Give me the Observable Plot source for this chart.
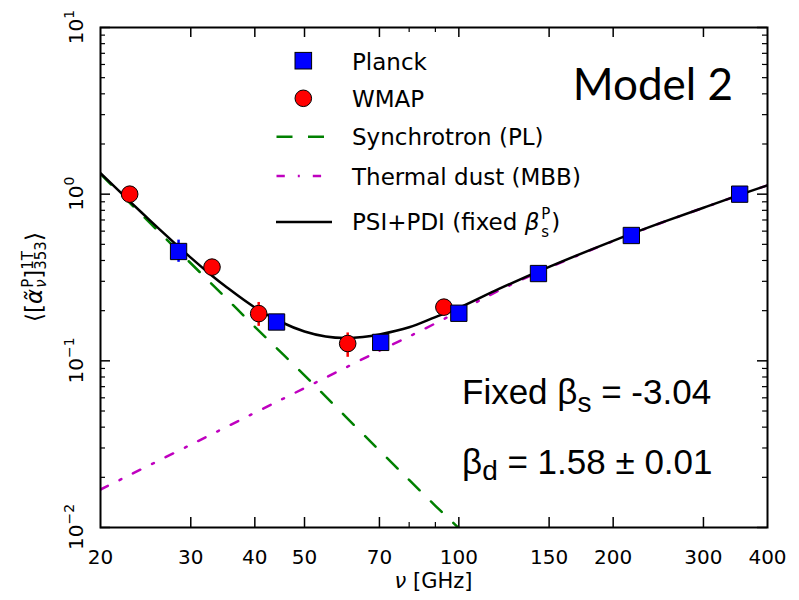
<!DOCTYPE html>
<html><head><meta charset="utf-8">
<script src="https://cdn.jsdelivr.net/npm/d3@7"></script>
<script src="https://cdn.jsdelivr.net/npm/@observablehq/plot@0.6"></script>
<style>body{margin:0;background:#fff}</style>
</head><body><div id="chart"></div>
<script>
// ---- data ----
const planckFreq = [28.4, 44.1, 70.4, 100, 143, 217, 353];
const planckVal  = [0.453, 0.171, 0.129, 0.193, 0.334, 0.565, 1.0];
const planckLo   = [0.39, 0.163, 0.126, 0.19, 0.33, 0.56, 0.99];
const planckHi   = [0.53, 0.178, 0.132, 0.196, 0.338, 0.57, 1.01];

const wmapFreq = [22.8, 33.0, 40.7, 60.7, 93.5];
const wmapVal  = [1.0, 0.365, 0.192, 0.127, 0.21];
const wmapLo   = [0.97, 0.35, 0.161, 0.105, 0.195];
const wmapHi   = [1.03, 0.38, 0.224, 0.147, 0.226];

const synchFreq = [20, 25, 30, 35, 40, 50, 60, 70, 80, 90, 100, 110];
const synchVal  = [1.32, 0.670, 0.385, 0.241, 0.160, 0.0818, 0.0466, 0.0290, 0.0193, 0.0135, 0.0099, 0.0074];

const dustFreq = [20, 30, 40, 50, 60, 70, 80, 100, 120, 150, 200, 250, 300, 353, 400];
const dustVal  = [0.0169, 0.0314, 0.0488, 0.0686, 0.0907, 0.115, 0.140, 0.198, 0.265, 0.363, 0.523, 0.678, 0.828, 0.99, 1.13];

const totalFreq = [20, 23, 25, 28, 30, 33, 35, 40, 45, 50, 55, 60, 65, 70, 80, 90, 100, 120, 150, 200, 250, 300, 353, 400];
const totalVal  = [1.337, 0.884, 0.694, 0.503, 0.416, 0.324, 0.281, 0.209, 0.171, 0.150, 0.140, 0.137, 0.139, 0.144, 0.159, 0.183, 0.208, 0.271, 0.366, 0.525, 0.679, 0.829, 0.99, 1.13];

const xTickLabels = [20, 30, 40, 50, 70, 100, 150, 200, 300, 400];
const xMajorTicks = [30, 40, 50, 70, 100, 150, 200, 300];
const xMinorTicks = [80, 90];
const yMajorTicks = [0.01, 0.1, 1, 10];
const yTickExp    = ["\u22122", "\u22121", "0", "1"];
const yMinorTicks = [];
[0.01, 0.1, 1].forEach(d => { for (let k = 2; k <= 9; k++) yMinorTicks.push(+(d * k).toPrecision(3)); });

const seriesNames = ["Planck", "WMAP", "Synchrotron (PL)", "Thermal dust (MBB)"];

// ---- tables ----
const planck = planckFreq.map((f, i) => ({f, v: planckVal[i], lo: planckLo[i], hi: planckHi[i]}));
const wmap = wmapFreq.map((f, i) => ({f, v: wmapVal[i], lo: wmapLo[i], hi: wmapHi[i]}));
const synch = synchFreq.map((f, i) => ({f, v: synchVal[i]}));
const dust = dustFreq.map((f, i) => ({f, v: dustVal[i]}));
const total = totalFreq.map((f, i) => ({f, v: totalVal[i]}));

const W = 799, H = 600, mL = 100, mR = 32, mT = 27, mB = 73;
const pH = H - mT - mB, pW = W - mL - mR;
const GREEN = "#008000", MAG = "#bf00bf";

const plot = Plot.plot({
  width: W, height: H,
  marginLeft: mL, marginRight: mR, marginTop: mT, marginBottom: mB,
  x: {type: "log", domain: [20, 400], axis: null},
  y: {type: "log", domain: [0.01, 10], axis: null},
  style: {fontFamily: "DejaVu Sans", background: "white", color: "black"},
  marks: [
    // ticks (inward, both sides)
    Plot.ruleX(xMajorTicks, {x: d => d, insetTop: pH - 10, stroke: "black", strokeWidth: 1.5}),
    Plot.ruleX(xMajorTicks, {x: d => d, insetBottom: pH - 10, stroke: "black", strokeWidth: 1.5}),
    Plot.ruleX(xMinorTicks, {x: d => d, insetTop: pH - 5, stroke: "black", strokeWidth: 1.2}),
    Plot.ruleX(xMinorTicks, {x: d => d, insetBottom: pH - 5, stroke: "black", strokeWidth: 1.2}),
    Plot.ruleY(yMajorTicks, {y: d => d, insetRight: pW - 10, stroke: "black", strokeWidth: 1.5}),
    Plot.ruleY(yMajorTicks, {y: d => d, insetLeft: pW - 10, stroke: "black", strokeWidth: 1.5}),
    Plot.ruleY(yMinorTicks, {y: d => d, insetRight: pW - 5, stroke: "black", strokeWidth: 1.2}),
    Plot.ruleY(yMinorTicks, {y: d => d, insetLeft: pW - 5, stroke: "black", strokeWidth: 1.2}),
    // model curves
    Plot.line(synch, {x: "f", y: "v", stroke: GREEN, strokeWidth: 2.5, strokeDasharray: "15,16", curve: "catmull-rom", clip: true}),
    Plot.line(dust, {x: "f", y: "v", stroke: MAG, strokeWidth: 2.5, strokeDasharray: "8.3,13,2,13", curve: "catmull-rom", clip: true}),
    Plot.line(total, {x: "f", y: "v", stroke: "black", strokeWidth: 2.5, curve: "catmull-rom", clip: true}),
    // error bars
    Plot.ruleX(wmap, {x: "f", y1: "lo", y2: "hi", stroke: "red", strokeWidth: 2.5}),
    Plot.ruleX(planck, {x: "f", y1: "lo", y2: "hi", stroke: "blue", strokeWidth: 2.5}),
    // data points
    Plot.dot(wmap, {x: "f", y: "v", r: 8.3, fill: "red", stroke: "black", strokeWidth: 1}),
    Plot.dot(planck, {x: "f", y: "v", r: 9.2, symbol: "square", fill: "blue", stroke: "black", strokeWidth: 1}),
    // x tick labels
    Plot.text(xTickLabels, {x: d => d, text: d => String(d), frameAnchor: "bottom", dy: 29.6, lineAnchor: "middle", fontSize: 20, fill: "black"}),
    Plot.frame({stroke: "black", strokeWidth: 2})
  ]
});
document.getElementById("chart").append(plot);
const yScale = plot.scale("y");

// ---- rich text helper (for sub/superscripts) ----
const svg = d3.select(plot);
function rich(runs, opt) {
  const g = svg.append("g").attr("text-anchor", "start");
  let cx = 0, prevStart = 0, prevEnd = 0;
  runs.forEach(r => {
    const t = g.append("text")
      .attr("text-anchor", "start")
      .attr("y", r.shift || 0)
      .attr("font-family", r.family || opt.family)
      .attr("font-size", r.size || opt.size)
      .attr("font-style", r.italic ? "italic" : null)
      .attr("fill", opt.fill || "black")
      .style("white-space", "pre")
      .text(r.t);
    const w = t.node().getComputedTextLength();
    let x0, end;
    if (r.stack) { x0 = prevStart; end = Math.max(prevEnd, x0 + w); }
    else { x0 = cx + (r.gap || 0); end = x0 + w; }
    t.attr("x", x0);
    prevStart = x0; prevEnd = end; cx = end;
  });
  const w = cx;
  const k = opt.anchor === "end" ? 1 : opt.anchor === "middle" ? 0.5 : 0;
  if (opt.rotate) {
    g.attr("transform", `translate(${opt.x},${opt.y + w * k}) rotate(-90)`);
  } else {
    g.attr("transform", `translate(${opt.x - w * k},${opt.y})`);
  }
  return g;
}

// y tick labels (rotated, with superscripts), placed via Plot's y scale
yMajorTicks.forEach((v, i) => {
  rich([{t: "10"}, {t: yTickExp[i], size: 14, shift: -9}],
    {x: 83, y: yScale.apply(v), size: 20, family: "DejaVu Sans", anchor: "middle", rotate: true});
});

// axis labels
rich([{t: "\u03BD", italic: true}, {t: " [GHz]"}], {x: mL + pW / 2, y: 588, size: 21, family: "DejaVu Sans", anchor: "middle"});
rich([
  {t: "\u27E8["}, {t: "\u03B1\u0303", italic: true},
  {t: "P", size: 15, shift: -9, gap: 1}, {t: "\u03BD", size: 15, shift: 4, italic: true, stack: true},
  {t: "]"},
  {t: "1T", size: 15, shift: -9}, {t: "353", size: 15, shift: 4, stack: true},
  {t: "\u27E9"}
], {x: 42, y: mT + pH / 2, size: 23, family: "DejaVu Sans", anchor: "middle", rotate: true});

// legend
const LX = 303.3, TX = 352;
svg.append("rect").attr("x", LX - 8.3).attr("y", 60.7 - 8.3).attr("width", 16.6).attr("height", 16.6)
  .attr("fill", "blue").attr("stroke", "black");
svg.append("circle").attr("cx", LX).attr("cy", 98.3).attr("r", 8.3).attr("fill", "red").attr("stroke", "black");
svg.append("line").attr("x1", 276.5).attr("x2", 332).attr("y1", 136.7).attr("y2", 136.7)
  .attr("stroke", GREEN).attr("stroke-width", 2.5).attr("stroke-dasharray", "16,15.5");
svg.append("line").attr("x1", 276.5).attr("x2", 332).attr("y1", 176).attr("y2", 176)
  .attr("stroke", MAG).attr("stroke-width", 2.5).attr("stroke-dasharray", "8.3,13,2,13");
svg.append("line").attr("x1", 276).attr("x2", 332).attr("y1", 222).attr("y2", 222)
  .attr("stroke", "black").attr("stroke-width", 2.5);
const legendBase = [69.5, 107, 145.2, 184.5];
seriesNames.forEach((s, i) => rich([{t: s}], {x: TX, y: legendBase[i], size: 23, family: "DejaVu Sans"}));
rich([
  {t: "PSI+PDI (fixed "}, {t: "\u03B2", italic: true},
  {t: "P", size: 15, shift: -11, gap: 2}, {t: "s", size: 15, shift: 7, stack: true},
  {t: ")", gap: 1}
], {x: TX, y: 229.5, size: 23, family: "DejaVu Sans"});

// annotations
rich([{t: "Model 2"}], {x: 733, y: 100, size: 44, family: "Lato", anchor: "end"});
rich([{t: "Fixed \u03B2"}, {t: "s", size: 28, shift: 8}, {t: " = -3.04"}],
  {x: 462, y: 404, size: 35, family: "Liberation Sans"});
rich([{t: "\u03B2"}, {t: "d", size: 28, shift: 6}, {t: " = 1.58 \u00B1 0.01"}],
  {x: 462, y: 474, size: 35, family: "Liberation Sans"});
</script>
</body></html>
